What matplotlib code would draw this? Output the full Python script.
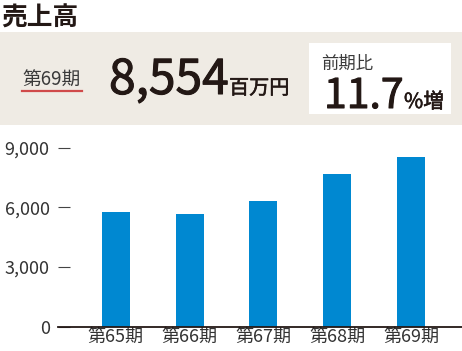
import matplotlib
matplotlib.use("Agg")
import matplotlib.pyplot as plt
import matplotlib.patches as patches
import matplotlib.patheffects as pe
import matplotlib.ticker as mticker

plt.rcParams['font.family'] = ['Noto Sans CJK JP', 'DejaVu Sans']

# data
periods = ["第65期", "第66期", "第67期", "第68期", "第69期"]
sales = [5780, 5680, 6300, 7690, 8554]
y_ticks = [0, 3000, 6000, 9000]

title = "売上高"
latest_label = "第69期"
latest_value = "8,554"
unit = "百万円"
change_label = "前期比"
change_value = "11.7"
change_unit = "%増"

W, H = 462, 351
BAR = "#0088d1"
INK = "#231815"

fig = plt.figure(figsize=(W / 100, H / 100), dpi=100)


def fx(px):
    return px / W


def fy(py):
    return 1 - py / H


# slightly heavier than regular (medium look)
medium = [pe.withStroke(linewidth=0.75, foreground=INK)]
light = [pe.withStroke(linewidth=0.4, foreground=INK)]

# --- header boxes
fig.add_artist(patches.Rectangle((0, fy(125)), 1, (125 - 32) / H,
                                 transform=fig.transFigure,
                                 facecolor="#efebe4", edgecolor="none", zorder=0))
fig.add_artist(patches.Rectangle((fx(309), fy(114)), (451 - 309) / W, (114 - 43) / H,
                                 transform=fig.transFigure,
                                 facecolor="white", edgecolor="none", zorder=1))

# --- header texts
fig.text(fx(1.5), fy(25.5), title, fontsize=18.5, fontweight="bold", color=INK, va="baseline")
fig.text(fx(22), fy(86), latest_label, fontsize=13.5, color="#3a3a3a", va="baseline")
fig.add_artist(plt.Line2D([fx(22), fx(82)], [fy(91), fy(91)], transform=fig.transFigure,
                          color="#d04a4a", lw=1.6))
fig.text(fx(109), fy(94), latest_value, fontsize=34.5, color=INK, va="baseline",
         path_effects=medium)
fig.text(fx(229), fy(94), unit, fontsize=14.5, color=INK, va="baseline", path_effects=light)
fig.text(fx(321), fy(69), change_label, fontsize=12.5, color="#3a3a3a", va="baseline")
fig.text(fx(324), fy(108), change_value, fontsize=29.5, color=INK, va="baseline",
         path_effects=medium)
fig.text(fx(404), fy(108), change_unit, fontsize=15, color=INK, va="baseline",
         path_effects=light)

# --- bar chart
ax = fig.add_axes([fx(58), fy(326.7), (W - 58) / W, (326.7 - 147.7) / H])
x = range(len(periods))
ax.bar(x, sales, width=0.38, color=BAR, zorder=2)
ax.set_xlim(-0.783, 4.69)
ax.set_ylim(0, 9000)
ax.set_yticks(y_ticks)
ax.yaxis.set_major_formatter(mticker.FuncFormatter(lambda v, _: f"{v:,.0f}"))
ax.set_xticks(list(x))
ax.set_xticklabels(periods)

for side in ["top", "right", "left"]:
    ax.spines[side].set_visible(False)
ax.spines["bottom"].set_color(INK)
ax.spines["bottom"].set_linewidth(1.3)

ax.tick_params(axis="y", direction="in", length=8.5, width=0.8, color="#444444",
               pad=6, labelsize=13, labelcolor="#333333")
ax.tick_params(axis="x", length=0, pad=1, labelsize=13, labelcolor="#333333")
ax.set_facecolor("none")

plt.savefig("out.png", dpi=100)
